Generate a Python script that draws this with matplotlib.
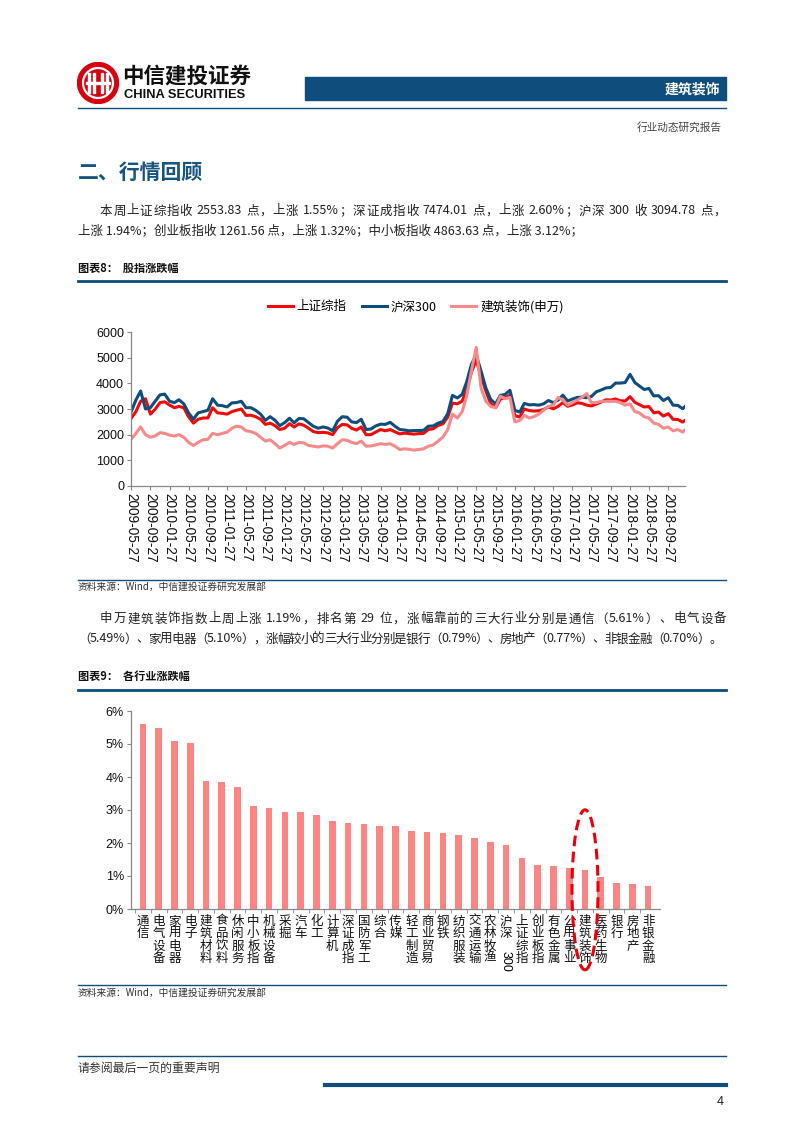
import re
import matplotlib
matplotlib.use('Agg')
import matplotlib.pyplot as plt
from matplotlib.patches import Rectangle, Circle, Ellipse
from matplotlib.lines import Line2D
import pandas as pd

W, H = 802, 1133
CJK = ['Noto Sans CJK SC', 'DejaVu Sans']
LAT = ['Liberation Sans', 'DejaVu Sans']
plt.rcParams['font.family'] = CJK

BLUE = '#0f4d7c'
RED = '#f00a0a'
NAVY = '#104d7a'
PINK = '#f58a8c'
BAR = '#fb8585'

sh_index = [2630, 2900, 3300, 3400, 2800, 2990, 3250, 3280,
            3150, 3050, 3100, 3050, 2700, 2450, 2600, 2650, 2650, 3050, 2850, 2830,
            2800, 2900, 2950, 3000, 2750, 2760, 2700, 2600, 2400, 2450, 2350, 2200,
            2250, 2430, 2300, 2420, 2370, 2250, 2120, 2080, 2090, 2070, 2000, 2270,
            2400, 2380, 2250, 2180, 2300, 2000, 2000, 2100, 2200, 2150, 2200, 2110,
            2030, 2060, 2040, 2020, 2040, 2050, 2200, 2230, 2360, 2420, 2680, 3230,
            3200, 3310, 3750, 4450, 4900, 4280, 3700, 3200, 3050, 3380, 3450, 3540,
            2740, 2690, 3000, 2940, 2920, 2930, 2980, 3085, 3005, 3100, 3250, 3105,
            3160, 3240, 3220, 3150, 3120, 3190, 3270, 3360, 3350, 3390, 3320, 3310,
            3480, 3260, 3170, 3080, 3095, 2850, 2880, 2725, 2820, 2600, 2590, 2490,
            2554]
hs300 = [2880, 3350, 3700, 3000, 3050, 3300, 3550, 3580,
         3300, 3250, 3360, 3200, 2850, 2600, 2850, 2900, 2950, 3400, 3150, 3130,
         3080, 3240, 3250, 3300, 3050, 3050, 2950, 2800, 2560, 2700, 2560, 2350,
         2470, 2640, 2460, 2630, 2620, 2470, 2330, 2250, 2300, 2260, 2150, 2520,
         2700, 2680, 2500, 2470, 2600, 2200, 2220, 2340, 2410, 2400, 2480, 2330,
         2200, 2180, 2150, 2160, 2160, 2170, 2330, 2340, 2450, 2510, 2810, 3530,
         3430, 3570, 4050, 4750, 5100, 4470, 3820, 3370, 3200, 3530, 3570, 3730,
         2950, 2880, 3220, 3160, 3170, 3150, 3200, 3330, 3250, 3340, 3540, 3310,
         3390, 3450, 3460, 3440, 3490, 3670, 3740, 3820, 3840, 4010, 4010, 4030,
         4350, 4030, 3900, 3760, 3800, 3510, 3520, 3330, 3440, 3150, 3140, 3010,
         3095]
jzzs = [1820, 2050, 2300, 2000, 1900, 1950, 2080, 2050,
        1980, 1950, 2000, 1900, 1700, 1580, 1700, 1800, 1820, 2050, 2000, 2050,
        2100, 2250, 2330, 2300, 2150, 2120, 2050, 1900, 1750, 1800, 1650, 1480,
        1580, 1700, 1620, 1700, 1680, 1580, 1550, 1520, 1560, 1550, 1480, 1650,
        1800, 1780, 1700, 1650, 1750, 1550, 1560, 1600, 1650, 1620, 1650, 1550,
        1420, 1450, 1430, 1400, 1420, 1450, 1550, 1600, 1750, 1900, 2200, 2800,
        2650, 2900, 3500, 4500, 5400, 3800, 3300, 3100, 3050, 3500, 3400, 3450,
        2500, 2550, 2750, 2650, 2700, 2800, 2950, 3100, 3150, 3450, 3350, 3150,
        3250, 3350, 3450, 3600, 3250, 3250, 3300, 3300, 3300, 3300, 3250, 3150,
        3200, 2900, 2850, 2700, 2650, 2450, 2400, 2250, 2300, 2150, 2200, 2100,
        2180]
dates = list(pd.date_range('2009-05-27', periods=116, freq=pd.DateOffset(months=1))) + [pd.Timestamp('2019-01-11')]

industries = ['通信', '电气设备', '家用电器', '电子', '建筑材料', '食品饮料', '休闲服务', '中小板指',
              '机械设备', '采掘', '汽车', '化工', '计算机', '深证成指', '国防军工', '综合', '传媒',
              '轻工制造', '商业贸易', '钢铁', '纺织服装', '交通运输', '农林牧渔', '沪深300', '上证综指',
              '创业板指', '有色金属', '公用事业', '建筑装饰', '医药生物', '银行', '房地产', '非银金融']
changes = [5.61, 5.49, 5.10, 5.03, 3.89, 3.84, 3.70, 3.12, 3.07, 2.95, 2.94, 2.86, 2.67, 2.60,
           2.57, 2.53, 2.52, 2.36, 2.33, 2.31, 2.23, 2.14, 2.03, 1.94, 1.55, 1.32, 1.30, 1.24,
           1.19, 0.97, 0.79, 0.77, 0.70]

fig = plt.figure(figsize=(W / 100, H / 100), dpi=100)
renderer = fig.canvas.get_renderer()


def fx(x):
    return x / W


def fy(y):
    return 1 - y / H


def hline(x0, x1, y, lw=1.0, color=BLUE):
    fig.add_artist(Line2D([fx(x0), fx(x1)], [fy(y), fy(y)], transform=fig.transFigure,
                          color=color, lw=lw))


def text(x, y, s, **kw):
    kw.setdefault('va', 'center')
    return fig.text(fx(x), fy(y), s, **kw)


def justify(x0, x1, y, s, **kw):
    # spread the tokens of one line so it runs from x0 to x1
    tokens = re.findall(r'[A-Za-z0-9.%]+|.', s)
    widths = []
    for tok in tokens:
        t = text(0, y, tok, **kw)
        widths.append(t.get_window_extent(renderer).width)
        t.remove()
    gap = (x1 - x0 - sum(widths)) / (len(tokens) - 1)
    x = x0
    for tok, w in zip(tokens, widths):
        if tok.strip():
            text(x, y, tok, **kw)
        x += w + gap


body = dict(fontsize=9, color='#222222')

# ---- header ----
lg = fig.add_axes([fx(77), fy(104), 42 / W, 42 / H])
lg.set_xlim(-21, 21)
lg.set_ylim(-21, 21)
lg.set_aspect('equal')
lg.axis('off')
lg.add_patch(Circle((0, 0), 20.5, color='#d6000f'))
lg.add_patch(Circle((0, 0), 15, fill=False, ec='white', lw=1.6))
for xx in [-9, -4, 4, 9]:
    lg.add_patch(Rectangle((xx - 1.2, -10), 2.4, 20, color='white'))
lg.add_patch(Rectangle((-12, -1.2), 24, 2.4, color='white'))
text(122, 76, '中信建投证券', fontsize=15.5, fontweight='bold', color='#111111')
text(124, 95, 'CHINA SECURITIES', fontsize=9.3, fontweight='bold', family=LAT, color='#111111')
fig.add_artist(Rectangle((fx(305), fy(100)), (726 - 305) / W, 23 / H,
                         transform=fig.transFigure, color=BLUE))
text(720, 89, '建筑装饰', fontsize=10, fontweight='bold', color='white', ha='right')
hline(78, 726, 108, lw=1.0)
text(722, 127, '行业动态研究报告', fontsize=7.7, color='#444444', ha='right')

text(78, 172, '二、行情回顾', fontsize=15, fontweight='bold', color='#17557f')
justify(100, 726, 211, '本周上证综指收 2553.83 点，上涨 1.55%；深证成指收 7474.01 点，上涨 2.60%；沪深 300 收 3094.78 点，',
        **body)
text(78, 231, '上涨 1.94%；创业板指收 1261.56 点，上涨 1.32%；中小板指收 4863.63 点，上涨 3.12%；', **body)

text(78, 268, '图表8：  股指涨跌幅', fontsize=8, fontweight='bold', color='#111111')
hline(78, 726, 281, lw=2.0)

# ---- chart 1: index lines ----
ax1 = fig.add_axes([fx(131), fy(486), (685 - 131) / W, (486 - 332) / H])
ax1.plot(dates, sh_index, color=RED, lw=2.2, label='上证综指')
ax1.plot(dates, hs300, color=NAVY, lw=2.2, label='沪深300')
ax1.plot(dates, jzzs, color=PINK, lw=2.2, label='建筑装饰(申万)')
ax1.set_xlim(pd.Timestamp('2009-05-27'), pd.Timestamp('2019-01-11'))
ax1.set_ylim(0, 6000)
ax1.set_yticks(range(0, 6001, 1000))
ax1.set_yticklabels([str(v) for v in range(0, 6001, 1000)], family=LAT, fontsize=9)
ticks = pd.date_range('2009-05-27', '2018-09-27', freq=pd.DateOffset(months=4))
ax1.set_xticks(ticks)
ax1.set_xticklabels([t.strftime('%Y-%m-%d') for t in ticks], rotation=270, family=LAT,
                    fontsize=9.8, va='top', ha='center')
for s in ['top', 'right']:
    ax1.spines[s].set_visible(False)
for s in ['left', 'bottom']:
    ax1.spines[s].set_color('#888888')
    ax1.spines[s].set_linewidth(0.9)
ax1.tick_params(axis='both', colors='#888888', length=3, width=0.8, labelcolor='#111111', pad=2)
ax1.legend(loc='center', bbox_to_anchor=(0.514, 1.165), ncol=3, frameon=False, fontsize=9,
           handlelength=2.0, handletextpad=0.3, columnspacing=1.2)

hline(78, 726, 580, lw=1.0)
text(78, 587, '资料来源：Wind，中信建投证券研究发展部', fontsize=7, style='italic', color='#333333')

justify(100, 726, 619, '申万建筑装饰指数上周上涨 1.19%，排名第 29 位，涨幅靠前的三大行业分别是通信（5.61%）、电气设备',
        **body)
justify(78, 722, 639, '（5.49%）、家用电器（5.10%），涨幅较小的三大行业分别是银行（0.79%）、房地产（0.77%）、非银金融（0.70%）。',
        **body)

text(78, 676, '图表9：  各行业涨跌幅', fontsize=8, fontweight='bold', color='#111111')
hline(78, 726, 690, lw=2.0)

# ---- chart 2: industry bars ----
ax2 = fig.add_axes([fx(131), fy(909), (660 - 131) / W, (909 - 711) / H])
pos = list(range(len(industries)))
ax2.bar(pos, changes, width=0.42, color=BAR)
ax2.set_xlim(-0.75, len(industries) - 0.25)
ax2.set_ylim(0, 6)
ax2.set_yticks(range(7))
ax2.set_yticklabels([f'{v}%' for v in range(7)], family=LAT, fontsize=9)
labels = []
for name in industries:
    if name == '沪深300':
        labels.append('沪\n深')
    else:
        labels.append('\n'.join(name))
ax2.set_xticks(pos)
ax2.set_xticklabels(labels, fontsize=9, linespacing=0.95, color='#111111')
i300 = industries.index('沪深300')
ax2.annotate('300', xy=(i300, 0), xycoords=('data', 'axes fraction'), xytext=(0, -30),
             textcoords='offset points', rotation=270, ha='center', va='top', fontsize=9,
             family=LAT)
ax2.set_xticks([p + 0.5 for p in pos[:-1]] + [-0.5], minor=True)
ax2.tick_params(axis='x', which='major', length=0, pad=4)
ax2.tick_params(axis='x', which='minor', length=3, color='#888888')
ax2.tick_params(axis='y', colors='#888888', length=3, labelcolor='#111111', pad=2)
for s in ['top', 'right']:
    ax2.spines[s].set_visible(False)
for s in ['left', 'bottom']:
    ax2.spines[s].set_color('#888888')
    ax2.spines[s].set_linewidth(0.9)
ihl = industries.index('建筑装饰')
ax2.add_patch(Ellipse((ihl, 0.58), 1.65, 4.85, fill=False, ec='#e8000b', lw=2.2,
                      ls=(0, (3.5, 1.8)), clip_on=False, zorder=10))

hline(78, 726, 985, lw=1.0)
text(78, 993, '资料来源：Wind，中信建投证券研究发展部', fontsize=7, style='italic', color='#333333')

# ---- footer ----
hline(78, 726, 1056, lw=1.0)
text(78, 1068, '请参阅最后一页的重要声明', fontsize=8.6, color='#333333')
hline(325, 726, 1085, lw=3.0)
text(724, 1102, '4', fontsize=9, ha='right', family=LAT, color='#222222')

fig.savefig('out.png', dpi=100)
